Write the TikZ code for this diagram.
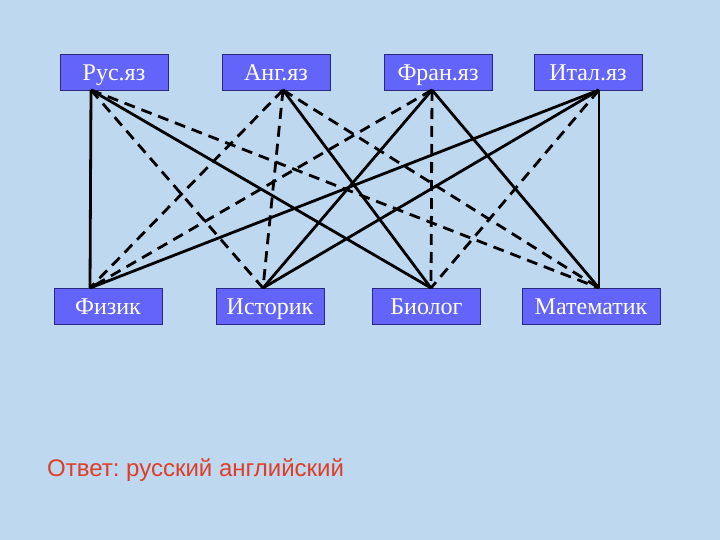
\documentclass[tikz,border=0pt]{standalone}
\usepackage{fontspec}
\usepackage{tikz}
\setmainfont{Liberation Serif}
\newfontfamily\answerfont{Liberation Sans}
\definecolor{bgblue}{RGB}{190,216,240}
\definecolor{boxblue}{RGB}{98,100,250}
\definecolor{boxedge}{RGB}{40,40,130}
\definecolor{answerred}{RGB}{222,62,40}
\frenchspacing

\begin{document}
\begin{tikzpicture}[x=1pt, y=-1pt,
                    box/.style={rectangle, draw=boxedge, line width=0.8pt, fill=boxblue,
                    text=white, font=\fontsize{24}{26}\selectfont,
                    minimum width=108pt, minimum height=36pt, inner sep=0pt,
                    text height=18pt, text depth=1pt},
                    yes/.style={line width=2.8pt},
                    no/.style={line width=2.8pt, dash pattern=on 11pt off 7pt}]
    \fill [bgblue] (0,0) rectangle (720,540);

    % languages
    \node [box] (rus) at (114,72.5) {Рус.яз};
    \node [box] (ang) at (276,72.5) {Анг.яз};
    \node [box] (fran) at (438,72.5) {Фран.яз};
    \node [box] (ital) at (588,72.5) {Итал.яз};
    % professions
    \node [box] (fizik) at (108,306) {Физик};
    \node [box] (istorik) at (270,306) {Историк};
    \node [box] (biolog) at (426.5,306) {Биолог};
    \node [box, minimum width=138pt] (matem) at (591,306) {Математик};

    \coordinate (ru) at (91,90);
    \coordinate (an) at (283,90);
    \coordinate (fr) at (432,90);
    \coordinate (it) at (599,90);
    \coordinate (fz) at (90,288);
    \coordinate (is) at (263,288);
    \coordinate (bi) at (431,288);
    \coordinate (ma) at (599,288);

    \draw [yes] (ru) -- (fz);
    \draw [no] (ru) -- (is);
    \draw [yes] (ru) -- (bi);
    \draw [no] (ru) -- (ma);
    \draw [no] (an) -- (fz);
    \draw [no] (an) -- (is);
    \draw [yes] (an) -- (bi);
    \draw [no] (an) -- (ma);
    \draw [no] (fr) -- (fz);
    \draw [yes] (fr) -- (is);
    \draw [no] (fr) -- (bi);
    \draw [yes] (fr) -- (ma);
    \draw [yes] (it) -- (fz);
    \draw [yes] (it) -- (is);
    \draw [no] (it) -- (bi);
    \draw [yes] (it) -- (ma);

    \node [anchor=base west, text=answerred, font=\answerfont\fontsize{24}{26}\selectfont,
           inner sep=0pt] (answer) at (47,476) {Ответ: русский английский};
\end{tikzpicture}
\end{document}
